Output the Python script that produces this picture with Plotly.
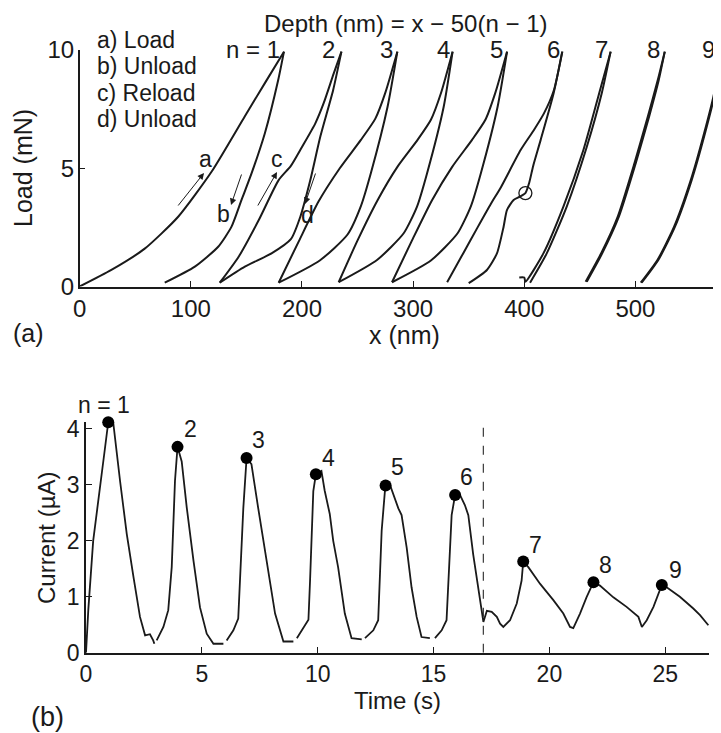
import plotly.graph_objects as go

# The page body adds an 8px offset, so the figure is drawn 8px in from the top-left.
OFF = 8
W, H = 721 - OFF, 733 - OFF
FONT = "Liberation Sans, Arial, Helvetica, sans-serif"
INK = "#1a1a1a"

# ---------------- Panel (a): load-displacement curves ----------------
# n = 1 : load (a) and unload (b)
n1_up_x = [0, 28.5, 58.5, 88.6, 118.6, 148.6, 166.6, 183.8]
n1_up_y = [0, 0.7, 1.6, 2.95, 4.85, 7.2, 8.6, 9.93]
n1_dn_x = [183.8, 178.6, 166.6, 154.6, 145.6, 136.6, 124.6, 103.6, 76.5]
n1_dn_y = [9.93, 8.73, 6.48, 4.78, 3.66, 2.53, 1.68, 0.84, 0.16]
# n = 2 : reload (c) and unload (d)
n2_up_x = [126, 143, 161, 179, 190, 200, 212, 219.5, 228.5, 235.5]
n2_up_y = [0.16, 1.26, 2.8, 4.5, 5.1, 5.9, 6.9, 7.75, 9.0, 9.93]
n2_dn_x = [235.5, 228, 216.5, 207.5, 198.5, 190, 172.6, 148.6, 126]
n2_dn_y = [9.93, 8.3, 6.34, 4.5, 2.95, 2.0, 1.4, 0.84, 0.16]
# n = 3
n3_up_x = [179, 197, 215, 234, 253, 266, 275, 285.8]
n3_up_y = [0.16, 1.9, 3.6, 5.0, 6.2, 7.1, 8.2, 9.93]
n3_dn_x = [285.8, 277, 262, 253, 241, 216, 179]
n3_dn_y = [9.93, 7.6, 4.8, 3.4, 2.2, 1.1, 0.16]
# n = 4
n4_up_x = [233, 250, 268, 286, 304, 316, 325, 335.5]
n4_up_y = [0.18, 1.95, 3.65, 5.07, 6.2, 7.05, 8.17, 9.93]
n4_dn_x = [335.5, 327.5, 312.5, 303.5, 291.5, 267.5, 233]
n4_dn_y = [9.93, 7.6, 4.78, 3.38, 2.25, 1.12, 0.18]
# n = 5
n5_up_x = [281, 299, 317, 335, 353, 365, 374, 384.5]
n5_up_y = [0.18, 1.95, 3.65, 5.05, 6.2, 7.05, 8.2, 9.93]
n5_dn_x = [384.5, 376, 361, 352, 340, 316, 281]
n5_dn_y = [9.93, 7.6, 4.8, 3.4, 2.25, 1.1, 0.18]
# n = 6 (unload shows the pop-out kink)
n6_up_x = [330.6, 345, 358, 370, 379, 396.7, 408.7, 417.7, 426.7, 434.2]
n6_up_y = [0.18, 1.4, 2.5, 3.5, 4.2, 5.77, 6.62, 7.32, 8.31, 9.93]
n6_dn_x = [434.2, 426.4, 414.7, 408, 404.5, 401, 396, 390.4, 384.4, 381.4, 375.4, 366.4, 350]
n6_dn_y = [9.93, 8.17, 6.19, 5.1, 4.4, 3.95, 3.8, 3.66, 3.23, 2.53, 1.4, 0.7, 0.14]
# n = 7
n7_up_x = [395.5, 400, 401, 417.2, 435.2, 453.2, 468.2, 477.7]
n7_up_y = [0.38, 0.38, 0.2, 1.4, 3.38, 5.77, 8.31, 9.93]
n7_dn_x = [477.7, 469.7, 456.2, 438.2, 420.2, 405.2]
n7_dn_y = [9.93, 8.17, 5.9, 3.38, 1.4, 0.16]
# n = 8
n8_up_x = [455.2, 469.1, 484.1, 499.1, 511.1, 520.1, 526.4]
n8_up_y = [0.2, 1.4, 2.96, 5.21, 7.18, 8.73, 9.93]
n8_dn_x = [526.4, 521.0, 512.3, 500.3, 485.2, 470.1, 456.2]
n8_dn_y = [9.93, 8.73, 7.18, 5.21, 2.96, 1.4, 0.2]
# n = 9
n9_up_x = [504.8, 519.8, 534.8, 549.8, 561.8, 570.8, 576.6]
n9_up_y = [0.16, 1.12, 2.53, 4.5, 6.48, 8.17, 9.93]
n9_dn_x = [576.6, 571.5, 562.6, 550.6, 535.6, 520.6, 505.6]
n9_dn_y = [9.93, 8.17, 6.48, 4.5, 2.53, 1.12, 0.16]

popout_x = [401]
popout_y = [3.95]

peak_labels = ["n = 1", "2", "3", "4", "5", "6", "7", "8", "9"]
legend_lines = ["a) Load", "b) Unload", "c) Reload", "d) Unload"]
x_ticks_a = [0, 100, 200, 300, 400, 500]
y_ticks_a = [0, 5, 10]

# ---------------- Panel (b): current vs time ----------------
time_s = [0, 0.1, 0.31, 0.6, 0.82, 0.96, 1.18, 1.47, 1.76, 2.05, 2.33, 2.55, 2.76, 2.9, 2.95, None,
          3.05, 3.34, 3.55, 3.7, 3.84, 3.95, 4.13, 4.35, 4.64, 4.92, 5.21, 5.5, 5.93, None,
          6.07, 6.36, 6.57, 6.64, 6.79, 6.93, 7.14, 7.43, 7.65, 7.87, 8.16, 8.52, 8.95, None,
          9.1, 9.38, 9.6, 9.67, 9.81, 9.92, 10.16, 10.3, 10.52, 10.67, 10.88, 11.17, 11.46, 11.9, None,
          12.04, 12.4, 12.61, 12.76, 12.9, 12.93, 13.12, 13.26, 13.48, 13.62, 13.84, 14.05, 14.27, 14.48, 14.84, None,
          15.06, 15.35, 15.56, 15.64, 15.78, 15.93, 16.14, 16.35, 16.5, 16.71, 16.93, 17.08, 17.15,
          17.3, 17.51, 17.73, 17.87, 18.01, 18.3, 18.59, 18.8, 18.87, 19.09, 19.6, 20.17, 20.6, 20.89,
          21.03, 21.32, 21.6, 21.9, 22.18, 22.76, 23.33, 23.84, 23.99, 24.2, 24.49, 24.7, 24.85,
          25.06, 25.63, 26.21, 26.5, 26.86]
current_uA = [0, 0.77, 2.0, 2.89, 3.66, 4.12, 4.1, 3.07, 2.12, 1.35, 0.64, 0.31, 0.33, 0.22, 0.16, None,
              0.22, 0.46, 0.76, 1.53, 3.07, 3.68, 3.42, 2.59, 1.64, 0.81, 0.34, 0.16, 0.16, None,
              0.22, 0.4, 0.61, 1.29, 2.59, 3.48, 3.37, 2.59, 2.0, 1.41, 0.7, 0.2, 0.2, None,
              0.26, 0.44, 0.59, 1.29, 2.89, 3.19, 3.25, 2.9, 2.48, 2.0, 1.53, 0.7, 0.26, 0.24, None,
              0.26, 0.4, 0.58, 2.18, 2.89, 2.99, 3.0, 2.82, 2.58, 2.46, 1.88, 1.17, 0.64, 0.28, 0.26, None,
              0.26, 0.4, 0.58, 1.29, 2.46, 2.82, 2.82, 2.64, 2.46, 1.76, 1.17, 0.81, 0.55,
              0.75, 0.73, 0.64, 0.52, 0.46, 0.58, 0.88, 1.29, 1.63, 1.53, 1.23, 0.94, 0.7, 0.46,
              0.44, 0.7, 0.99, 1.26, 1.2, 0.99, 0.82, 0.64, 0.46, 0.58, 0.82, 1.05, 1.21,
              1.17, 1.0, 0.79, 0.67, 0.49]
peak_t = [0.96, 3.95, 6.93, 9.92, 12.93, 15.93, 18.87, 21.9, 24.85]
peak_i = [4.12, 3.68, 3.48, 3.19, 2.99, 2.82, 1.63, 1.26, 1.21]
dash_t = 17.15
x_ticks_b = [0, 5, 10, 15, 20, 25]
y_ticks_b = [0, 1, 2, 3, 4]


def px(x):
    return (x - OFF) / W


def py(y):
    return 1 - (y - OFF) / H


fig = go.Figure()

curves = [
    (n1_up_x, n1_up_y), (n1_dn_x, n1_dn_y), (n2_up_x, n2_up_y), (n2_dn_x, n2_dn_y),
    (n3_up_x, n3_up_y), (n3_dn_x, n3_dn_y), (n4_up_x, n4_up_y), (n4_dn_x, n4_dn_y),
    (n5_up_x, n5_up_y), (n5_dn_x, n5_dn_y), (n6_up_x, n6_up_y), (n6_dn_x, n6_dn_y),
    (n7_up_x, n7_up_y), (n7_dn_x, n7_dn_y), (n8_up_x, n8_up_y), (n8_dn_x, n8_dn_y),
    (n9_up_x, n9_up_y), (n9_dn_x, n9_dn_y),
]
for cx, cy in curves:
    fig.add_trace(go.Scatter(x=cx, y=cy, mode="lines", xaxis="x", yaxis="y",
                             line=dict(color=INK, width=2, shape="spline", smoothing=0.6),
                             showlegend=False, hoverinfo="skip"))

fig.add_trace(go.Scatter(x=popout_x, y=popout_y, mode="markers", xaxis="x", yaxis="y",
                         marker=dict(symbol="circle-open", size=13, color=INK, line=dict(width=1.3)),
                         showlegend=False, cliponaxis=False))

# panel (b)
fig.add_trace(go.Scatter(x=[dash_t, dash_t], y=[0, 4.13], mode="lines", xaxis="x2", yaxis="y2",
                         line=dict(color="#444", width=1.3, dash="dash"), showlegend=False))
fig.add_trace(go.Scatter(x=time_s, y=current_uA, mode="lines", xaxis="x2", yaxis="y2",
                         line=dict(color=INK, width=1.8), connectgaps=False, showlegend=False))
fig.add_trace(go.Scatter(x=peak_t, y=peak_i, mode="markers", xaxis="x2", yaxis="y2",
                         marker=dict(size=12, color="black"), cliponaxis=False, showlegend=False))

ax_common = dict(showline=True, linecolor=INK, linewidth=1.5, ticks="inside", ticklen=6,
                 tickcolor=INK, tickwidth=1, showgrid=False, zeroline=False, mirror=False,
                 fixedrange=True, automargin=False)

fig.update_layout(
    template="none",
    width=W, height=H,
    margin=dict(l=0, r=0, t=0, b=0, pad=0),
    paper_bgcolor="white", plot_bgcolor="white",
    font=dict(family=FONT, color=INK),
    xaxis=dict(domain=[px(79.7), 1.0], range=[0, 577], tickvals=x_ticks_a, anchor="y",
               tickfont=dict(size=24), ticklabelstandoff=0, **ax_common),
    yaxis=dict(domain=[py(286.5), py(50)], range=[0, 10], tickvals=y_ticks_a, anchor="x",
               tickfont=dict(size=24), ticklabelstandoff=-1, **ax_common),
    xaxis2=dict(domain=[px(86), px(709.3)], range=[0, 26.9], tickvals=x_ticks_b, anchor="y2",
                tickfont=dict(size=23), ticklabelstandoff=0, **ax_common),
    yaxis2=dict(domain=[py(652.7), py(421.7)], range=[0, 4.13], tickvals=y_ticks_b, anchor="x2",
                tickfont=dict(size=23), ticklabelstandoff=0, **ax_common),
)

ann = []
def text(x, y, s, size=21, xanchor="center", yanchor="middle", angle=0):
    ann.append(dict(x=px(x), y=py(y), xref="paper", yref="paper", text=s, showarrow=False,
                    font=dict(size=size, family=FONT, color=INK), xanchor=xanchor,
                    yanchor=yanchor, textangle=angle, borderpad=0))

# axis titles
text(404, 335, "x (nm)", 25)
text(23, 168, "Load (mN)", 25, angle=-90)
text(397, 700, "Time (s)", 24)
text(46, 538, "Current (µA)", 24, angle=-90)
# panel tags
text(28, 333, "(a)", 25)
text(47, 717, "(b)", 27)
# header
text(405, 23, "Depth (nm) = x − 50(n − 1)", 24)
# legend-like list
for k, s in enumerate(legend_lines):
    text(96, 40 + 26.3 * k, s, 23, xanchor="left")
# peak labels, panel (a)
peak_label_right = [281, 336, 394, 451, 504, 561, 609, 661, 716]
for s, xr in zip(peak_labels, peak_label_right):
    text(xr, 50, s, 24, xanchor="right")
# peak labels, panel (b)
b_label_pos = [(104, 405), (190, 429), (258, 440), (328, 458), (397, 467), (466, 477),
               (535, 545), (605, 565), (675, 570)]
b_labels = ["n = 1", "2", "3", "4", "5", "6", "7", "8", "9"]
for s, (xx, yy) in zip(b_labels, b_label_pos):
    text(xx, yy, s, 23)

# arrow letters
text(205, 159, "a", 23)
text(223, 214, "b", 23)
text(277, 159, "c", 23)
text(307, 215, "d", 23)
arrows = [((204, 173), (177, 207)), ((231, 205), (242, 173)),
          ((277, 172), (257, 207)), ((305, 204), (316, 172))]
for (tx, ty), (sx, sy) in arrows:
    ann.append(dict(x=px(tx), y=py(ty), xref="paper", yref="paper", ax=sx - tx, ay=sy - ty,
                    text="", showarrow=True, arrowhead=2, arrowsize=1.3, arrowwidth=1,
                    arrowcolor=INK))

fig.update_layout(annotations=ann)
fig.write_html("out.html")
